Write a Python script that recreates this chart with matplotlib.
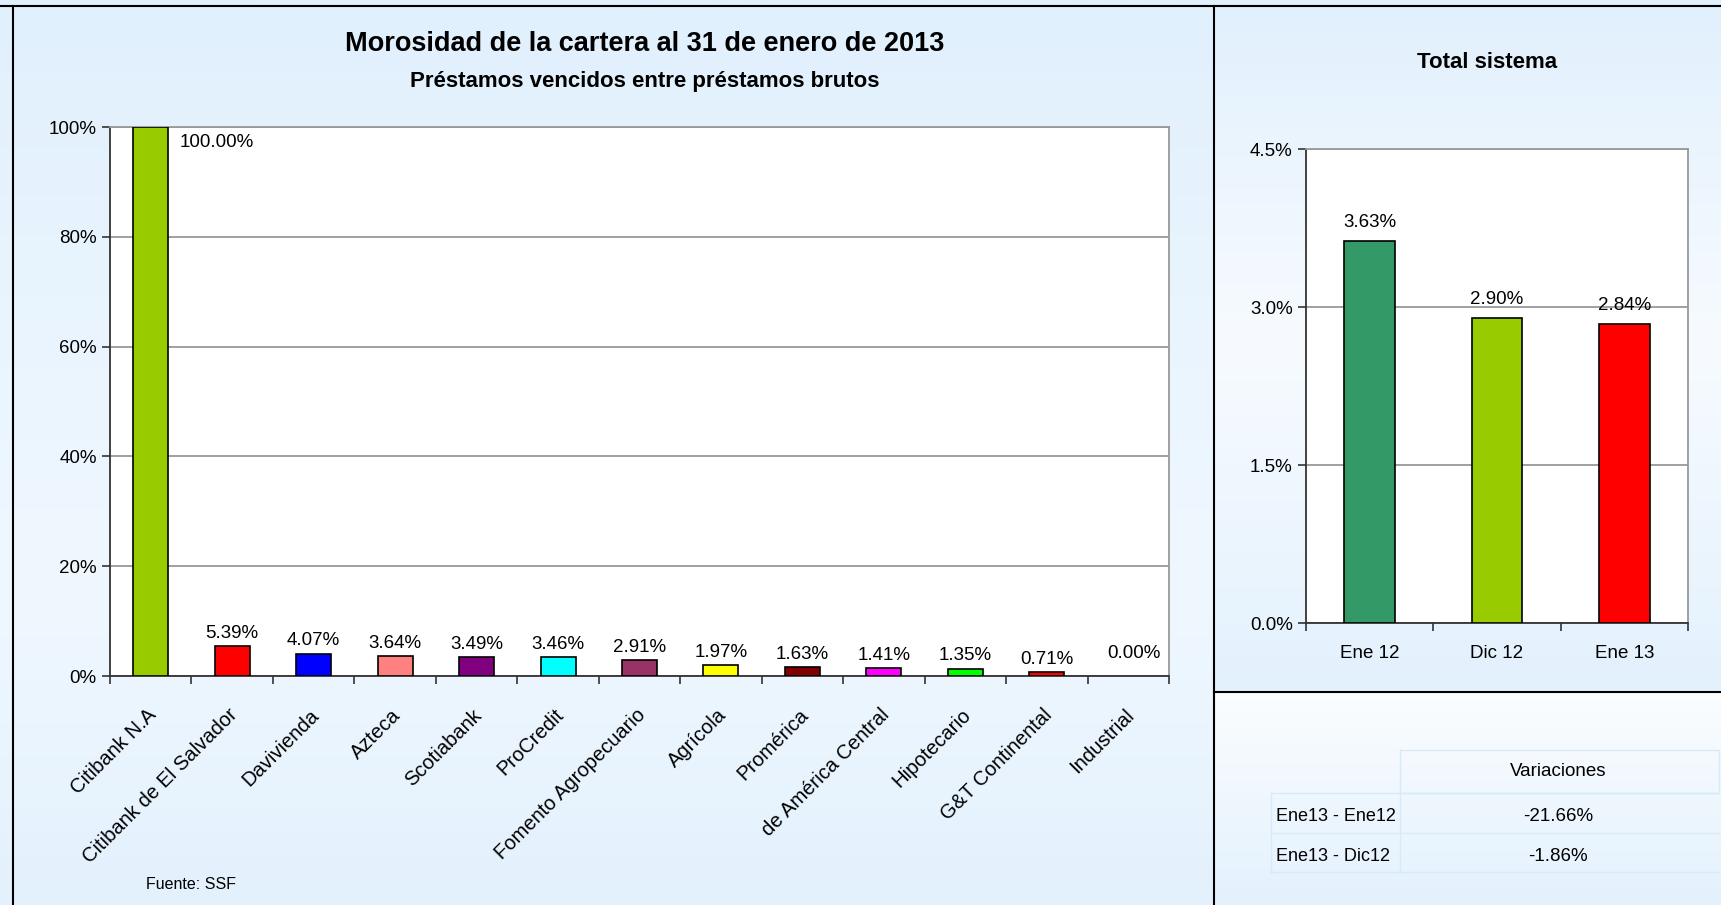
import numpy as np
import matplotlib
matplotlib.use("Agg")
import matplotlib.pyplot as plt
import matplotlib.colors as mcolors

plt.rcParams['font.family'] = ['Liberation Sans', 'DejaVu Sans']

# datos: morosidad por banco (enero 2013)
bancos = ["Citibank N.A", "Citibank de El Salvador", "Davivienda", "Azteca", "Scotiabank",
          "ProCredit", "Fomento Agropecuario", "Agrícola", "Promérica", "de América Central",
          "Hipotecario", "G&T Continental", "Industrial"]
morosidad = [100.00, 5.39, 4.07, 3.64, 3.49, 3.46, 2.91, 1.97, 1.63, 1.41, 1.35, 0.71, 0.00]
colores = ["#99cc00", "#ff0000", "#0000ff", "#ff8080", "#800080", "#00ffff", "#993366",
           "#ffff00", "#800000", "#ff00ff", "#00ff00", "#ff0000", "#333399"]

# total del sistema
periodos = ["Ene 12", "Dic 12", "Ene 13"]
total_sistema = [3.63, 2.90, 2.84]
colores_total = ["#339966", "#99cc00", "#ff0000"]

# tabla de variaciones
variaciones_labels = ["Ene13 - Ene12", "Ene13 - Dic12"]
variaciones = [-21.66, -1.86]

W, H = 1721, 905
fs = 13.5
fig = plt.figure(figsize=(W / 100, H / 100), dpi=100)


def box(l, t, r, b):
    return [l / W, 1 - b / H, (r - l) / W, (b - t) / H]


# fondo con degradado
bg = fig.add_axes([0, 0, 1, 1], zorder=-10)


def gradient(x0, x1, y0, y1, stops):
    ys = np.linspace(0, 1, 256)
    pos = [s[0] for s in stops]
    cols = np.array([mcolors.to_rgb(s[1]) for s in stops])
    img = np.stack([np.interp(ys, pos, cols[:, k]) for k in range(3)], axis=-1)[:, None, :]
    bg.imshow(img, extent=(x0, x1, y1, y0), aspect='auto', interpolation='bilinear')


gradient(0, 1214, 0, H, [(0, "#e1f0fd"), (0.65, "#f0f8ff"), (1, "#e3f1fd")])
gradient(1214, W, 0, 692, [(0, "#e1f0fd"), (0.5, "#f7fbff"), (1, "#e3f1fd")])
gradient(1214, W, 692, H, [(0, "#fbfdff"), (1, "#e3f1fd")])
bg.plot([0, W], [6, 6], color="black", lw=1.5)
bg.plot([13, 13], [6, H], color="black", lw=1.5)
bg.plot([1214, 1214], [6, H], color="black", lw=1.5)
bg.plot([1214, W], [692, 692], color="black", lw=1.5)

# tabla variaciones (lineas tenues)
line_c = "#d8eaf8"
bg.plot([1400, 1719, 1719, 1400, 1400], [750, 750, 793, 793, 750], color=line_c, lw=1)
bg.plot([1271, 1719], [793, 793], color=line_c, lw=1)
bg.plot([1271, 1719], [833, 833], color=line_c, lw=1)
bg.plot([1271, 1719], [872, 872], color=line_c, lw=1)
bg.plot([1271, 1271], [793, 872], color=line_c, lw=1)
bg.plot([1400, 1400], [793, 872], color=line_c, lw=1)
bg.set_xlim(0, W)
bg.set_ylim(H, 0)
bg.axis('off')


def style_axes(a):
    a.tick_params(axis='both', length=6, width=1.2, color="#333333")
    for s in ["top", "right"]:
        a.spines[s].set_color("#999999")
        a.spines[s].set_linewidth(1.3)
    for s in ["left", "bottom"]:
        a.spines[s].set_color("#333333")
        a.spines[s].set_linewidth(1.3)


# grafico principal
ax = fig.add_axes(box(110, 127, 1169, 676))
x = np.arange(len(bancos))
bordes = [1.2 if v > 0 else 0 for v in morosidad]
ax.bar(x, morosidad, width=0.43, color=colores, edgecolor="black", linewidth=bordes, zorder=3)
ax.set_xlim(-0.5, len(bancos) - 0.5)
ax.set_ylim(0, 100)
ax.set_yticks(np.arange(0, 101, 20))
ax.set_yticklabels([f"{v}%" for v in range(0, 101, 20)], fontsize=fs)
ax.yaxis.grid(True, color="#999999", linewidth=1.3, zorder=0)
ax.set_xticks(np.arange(-0.5, len(bancos), 1))
ax.set_xticklabels([])
style_axes(ax)

for i, v in enumerate(morosidad):
    if v >= 50:
        ax.annotate(f"{v:.2f}%", xy=(i + 0.215, v), xytext=(8, -5), textcoords="offset points",
                    ha="left", va="top", fontsize=fs)
    elif v == 0:
        ax.annotate(f"{v:.2f}%", xy=(i, v), xytext=(4, 10), textcoords="offset points",
                    ha="center", va="bottom", fontsize=fs)
    else:
        ax.annotate(f"{v:.2f}%", xy=(i, v), xytext=(0, 3), textcoords="offset points",
                    ha="center", va="bottom", fontsize=fs)

for i, name in enumerate(bancos):
    ax.annotate(name, xy=(i, 0), xycoords=("data", "axes fraction"), xytext=(2, -26),
                textcoords="offset points", ha="right", va="center", rotation=45,
                rotation_mode="anchor", fontsize=14.5)

fig.text(645 / W, 1 - 44 / H, "Morosidad de la cartera al 31 de enero de 2013",
         ha="center", va="center", fontsize=19.5, fontweight="bold")
fig.text(645 / W, 1 - 81 / H, "Préstamos vencidos entre préstamos brutos",
         ha="center", va="center", fontsize=16, fontweight="bold")
fig.text(146 / W, 1 - 884 / H, "Fuente: SSF", ha="left", va="center", fontsize=11.5)

# total sistema
ax2 = fig.add_axes(box(1306, 149, 1688, 623))
x2 = np.arange(len(periodos))
ax2.bar(x2, total_sistema, width=0.4, color=colores_total, edgecolor="black", linewidth=1.2, zorder=3)
ax2.set_xlim(-0.5, len(periodos) - 0.5)
ax2.set_ylim(0, 4.5)
ax2.set_yticks([0, 1.5, 3.0, 4.5])
ax2.set_yticklabels([f"{v:.1f}%" for v in [0, 1.5, 3.0, 4.5]], fontsize=fs)
ax2.yaxis.grid(True, color="#999999", linewidth=1.3, zorder=0)
ax2.set_xticks(np.arange(-0.5, len(periodos), 1))
ax2.set_xticklabels([])
style_axes(ax2)
for i, v in enumerate(total_sistema):
    ax2.annotate(f"{v:.2f}%", xy=(i, v), xytext=(0, 7), textcoords="offset points",
                 ha="center", va="bottom", fontsize=fs)
    ax2.annotate(periodos[i], xy=(i, 0), xycoords=("data", "axes fraction"), xytext=(0, -22),
                 textcoords="offset points", ha="center", va="center", fontsize=fs)
fig.text(1487 / W, 1 - 62 / H, "Total sistema", ha="center", va="center",
         fontsize=16, fontweight="bold")

# tabla variaciones (texto)
fig.text(1558 / W, 1 - 771 / H, "Variaciones", ha="center", va="center", fontsize=fs)
for k, (lab, v) in enumerate(zip(variaciones_labels, variaciones)):
    yy = 816 + 40 * k
    fig.text(1276 / W, 1 - yy / H, lab, ha="left", va="center", fontsize=13)
    fig.text(1558 / W, 1 - yy / H, f"{v:.2f}%", ha="center", va="center", fontsize=fs)

fig.savefig("out.png", dpi=100)
